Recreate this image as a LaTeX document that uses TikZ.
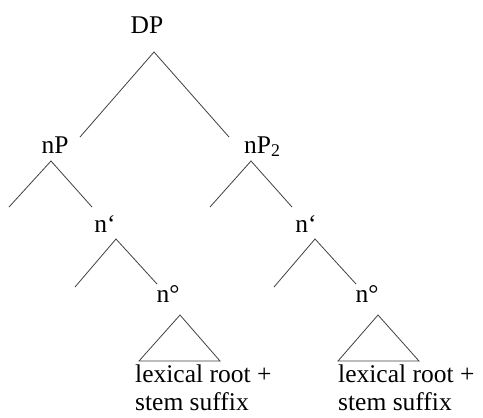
\documentclass[tikz,border=0pt]{standalone}
\usepackage{fontspec}
\setmainfont{Liberation Serif}
\begin{document}
\begin{tikzpicture}[x=1bp,y=-1bp,
  lbl/.style={inner sep=0pt, anchor=base, font=\fontsize{25.5bp}{28bp}\selectfont},
  lblw/.style={inner sep=0pt, anchor=base west, font=\fontsize{25.5bp}{28bp}\selectfont},
  branch/.style={draw=black!75, line width=0.8bp}]
\useasboundingbox (0,0) rectangle (483,417);
% labels
\node[lbl] (DP) at (147,33) {DP};
\node[lbl] (nP) at (55,153) {nP};
\node[lblw] (nPtwo) at (244,153) {nP\textsubscript{2}};
\node[lbl] (nbarL) at (105,232) {n‘};
\node[lbl] (nbarR) at (306,232) {n‘};
\node[lbl] (nzL) at (168,302) {n°};
\node[lbl] (nzR) at (367,302) {n°};
\node[lblw] (lexL) at (135,382) {lexical root +};
\node[lblw] (stemL) at (135,410) {stem suffix};
\node[lblw] (lexR) at (338,382) {lexical root +};
\node[lblw] (stemR) at (338,410) {stem suffix};
% branch points
\coordinate (dpA) at (154,52);
\coordinate (dpL) at (80,137);
\coordinate (dpR) at (229,137);
\coordinate (npA) at (51,161);
\coordinate (npL) at (9,207);
\coordinate (npR) at (92,207);
\coordinate (nptA) at (251,161);
\coordinate (nptL) at (210,207);
\coordinate (nptR) at (292,207);
\coordinate (nbLA) at (116,239);
\coordinate (nbLL) at (75,287);
\coordinate (nbLR) at (157,284);
\coordinate (nbRA) at (315,239);
\coordinate (nbRL) at (274,287);
\coordinate (nbRR) at (356,284);
\coordinate (trLA) at (180,315);
\coordinate (trLL) at (139,361);
\coordinate (trLR) at (220,361);
\coordinate (trRA) at (378,315);
\coordinate (trRL) at (338,361);
\coordinate (trRR) at (419,361);
% branches
\draw[branch] (dpL) -- (dpA) -- (dpR);
\draw[branch] (npL) -- (npA) -- (npR);
\draw[branch] (nptL) -- (nptA) -- (nptR);
\draw[branch] (nbLL) -- (nbLA) -- (nbLR);
\draw[branch] (nbRL) -- (nbRA) -- (nbRR);
\draw[branch] (trLA) -- (trLL) -- (trLR) -- cycle;
\draw[branch] (trRA) -- (trRL) -- (trRR) -- cycle;
\end{tikzpicture}
\end{document}
